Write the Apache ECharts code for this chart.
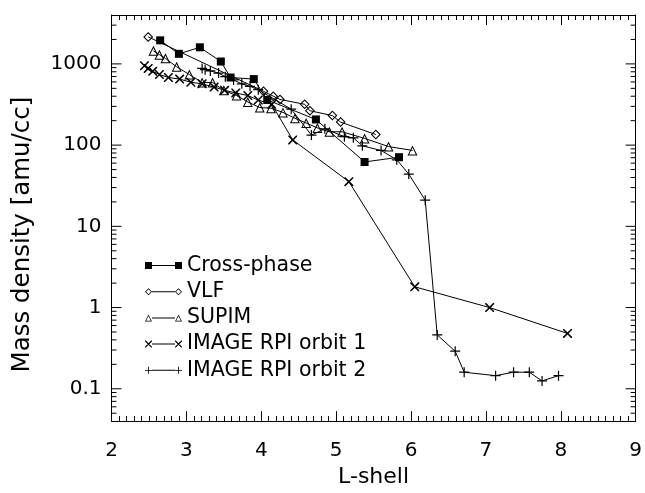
<!DOCTYPE html>
<html>
<head>
<meta charset="utf-8">
<script src="https://cdn.jsdelivr.net/npm/echarts@6/dist/echarts.min.js"></script>
<style>html,body{margin:0;padding:0;background:#fff}#c{width:645px;height:493px}</style>
</head>
<body>
<div id="c"></div>
<script>
// ---- data (L-shell, mass density amu/cc) ----
const crossL = [2.65, 2.90, 3.18, 3.46, 3.59, 3.90, 4.08, 4.73, 5.38, 5.84];
const crossV = [1950, 1330, 1600, 1070, 680, 650, 360, 207, 62, 71];

const vlfL = [2.49, 4.03, 4.16, 4.25, 4.58, 4.65, 4.95, 5.06, 5.53];
const vlfV = [2150, 460, 401, 365, 318, 265, 231, 192, 135];

const supimL = [2.56, 2.64, 2.72, 2.87, 3.04, 3.21, 3.35, 3.50, 3.67, 3.82, 3.98, 4.13, 4.29, 4.45, 4.60, 4.75, 4.91, 5.08, 5.38, 5.70, 6.02];
const supimV = [1450, 1300, 1170, 920, 740, 590, 590, 473, 408, 340, 290, 285, 253, 214, 187, 163, 146, 146, 121, 96, 86];

const orb1L = [2.44, 2.49, 2.55, 2.64, 2.76, 2.91, 3.06, 3.21, 3.37, 3.51, 3.66, 3.82, 3.96, 4.14, 4.42, 5.17, 6.05, 7.05, 8.09];
const orb1V = [950, 880, 810, 740, 680, 650, 595, 568, 518, 473, 439, 408, 359, 318, 116, 35.5, 1.8, 1.0, 0.48];

const orb2L = [3.21, 3.25, 3.32, 3.43, 3.52, 3.63, 3.74, 3.85, 3.96, 4.40, 4.67, 4.85, 5.11, 5.23, 5.35, 5.60, 5.81, 5.97, 6.19, 6.35, 6.59, 6.71, 7.13, 7.37, 7.58, 7.75, 7.97];
const orb2V = [880, 850, 820, 770, 697, 634, 568, 529, 481, 277, 133, 159, 127, 123, 98, 86, 66, 44, 21, 0.46, 0.29, 0.16, 0.145, 0.16, 0.16, 0.125, 0.145];

const seriesNames = ['Cross-phase', 'VLF', 'SUPIM', 'IMAGE RPI orbit 1', 'IMAGE RPI orbit 2'];

const xTicks = [2, 3, 4, 5, 6, 7, 8, 9];
const yMajor = [0.1, 1, 10, 100, 1000];
const yMinorMult = [2, 3, 4, 5, 6, 7, 8, 9];
const yMin = 0.04, yMax = 4000;

// ---- marker shapes (path data, nonzero fill) ----
function diamondP(x, y, s) {
  const h = s / 2, cx = x + h, cy = y + h, t = s * 0.15;
  return `M${x} ${cy} L${cx} ${y} L${x + s} ${cy} L${cx} ${y + s} Z ` +
    `M${x + t} ${cy} L${cx} ${y + s - t} L${x + s - t} ${cy} L${cx} ${y + t} Z`;
}
function triP(x, y, s) {
  const k = s / 10;
  const P = (a, b) => `${x + a * k} ${y + b * k}`;
  return `M${P(0, 10)} L${P(5, 0)} L${P(10, 10)} Z M${P(1.62, 9)} L${P(8.38, 9)} L${P(5, 2.24)} Z`;
}
function squareP(x, y, s) {
  return `M${x} ${y} L${x + s} ${y} L${x + s} ${y + s} L${x} ${y + s} Z`;
}
function crossXP(x, y, s) {
  const t = s * 0.12;
  return `M${x} ${y} L${x + t} ${y} L${x + s} ${y + s - t} L${x + s} ${y + s} L${x + s - t} ${y + s} L${x} ${y + t} Z ` +
    `M${x + s} ${y} L${x + s} ${y + t} L${x + t} ${y + s} L${x} ${y + s} L${x} ${y + s - t} L${x + s - t} ${y} Z`;
}
function plusP(x, y, s) {
  const t = s * 0.12, m = s / 2 - t / 2;
  return `M${x + m} ${y} L${x + m + t} ${y} L${x + m + t} ${y + s} L${x + m} ${y + s} Z ` +
    `M${x} ${y + m} L${x + s} ${y + m} L${x + s} ${y + m + t} L${x} ${y + m + t} Z`;
}
const shapes = [squareP, diamondP, triP, crossXP, plusP];

const LW = 37, LH = 7;
function legendIcon(fn) {
  return 'path://' + fn(0, 0, LH) + ' ' + fn(LW - LH, 0, LH) +
    ` M${LH} ${LH / 2 - 0.5} L${LW - LH} ${LH / 2 - 0.5} L${LW - LH} ${LH / 2 + 0.5} L${LH} ${LH / 2 + 0.5} Z`;
}
function symbolPath(fn) { return 'path://' + fn(0, 0, 10); }

const symbols = ['rect', symbolPath(diamondP), symbolPath(triP), symbolPath(crossXP), symbolPath(plusP)];
const symbolSizes = [8, 10, 10, 9, 10];
const Ls = [crossL, vlfL, supimL, orb1L, orb2L];
const Vs = [crossV, vlfV, supimV, orb1V, orb2V];

const FONT = 'DejaVu Sans';
const series = seriesNames.map((name, i) => ({
  name, type: 'line',
  data: Ls[i].map((l, j) => [l, Vs[i][j]]),
  symbol: symbols[i], symbolSize: symbolSizes[i], showAllSymbol: true,
  symbolKeepAspect: true,
  lineStyle: { color: '#000', width: 1 },
  itemStyle: { color: '#000', borderWidth: 0 },
  emphasis: { disabled: true },
  animation: false, z: 3
}));

// y ticks (log minor ticks at 2..9 per decade), drawn through the axis scale
const yTickData = [];
[0.01, 0.1, 1, 10, 100, 1000].forEach(d => {
  if (d >= yMin && d <= yMax) yTickData.push([d, 1]);
  yMinorMult.forEach(m => { const v = d * m; if (v >= yMin * 1.0001 && v <= yMax * 0.9999) yTickData.push([v, 0]); });
});
series.push({
  type: 'custom', silent: true, animation: false, z: 4,
  data: yTickData, clip: false,
  renderItem: (params, api) => {
    const v = api.value(0), major = api.value(1) === 1;
    const len = major ? 10 : 5;
    const pl = api.coord([2, v]), pr = api.coord([9, v]);
    const st = { stroke: '#000', lineWidth: 1 };
    return { type: 'group', children: [
      { type: 'line', shape: { x1: pl[0], y1: pl[1], x2: pl[0] + len, y2: pl[1] }, style: st },
      { type: 'line', shape: { x1: pr[0], y1: pr[1], x2: pr[0] - len, y2: pr[1] }, style: st }
    ]};
  }
});

const xAxisCommon = {
  type: 'value', min: 2, max: 9, interval: 1,
  axisLine: { show: true, onZero: false, lineStyle: { color: '#000', width: 1 } },
  axisTick: { show: true, inside: true, length: 10, lineStyle: { color: '#000' } },
  minorTick: { show: true, splitNumber: 10, length: 5, lineStyle: { color: '#000' } },
  splitLine: { show: false }, minorSplitLine: { show: false }
};
const yAxisCommon = {
  type: 'log', min: yMin, max: yMax, logBase: 10,
  axisLine: { show: true, onZero: false, lineStyle: { color: '#000', width: 1 } },
  axisTick: { show: false }, minorTick: { show: false },
  splitLine: { show: false }, minorSplitLine: { show: false }
};

const chart = echarts.init(document.getElementById('c'), null, { renderer: 'canvas' });
chart.setOption({
  animation: false,
  backgroundColor: '#fff',
  grid: { left: 111.5, right: 3.6, top: 15, bottom: 61, containLabel: false },
  xAxis: [
    Object.assign({}, xAxisCommon, {
      position: 'bottom',
      name: 'L-shell', nameLocation: 'middle', nameGap: 41,
      nameTextStyle: { fontFamily: FONT, fontSize: 22, color: '#000' },
      axisLabel: { show: true, margin: 20, fontFamily: FONT, fontSize: 20, color: '#000',
        formatter: v => (xTicks.indexOf(v) >= 0 ? String(v) : '') }
    }),
    Object.assign({}, xAxisCommon, { position: 'top', axisLabel: { show: false } })
  ],
  yAxis: [
    Object.assign({}, yAxisCommon, {
      position: 'left',
      name: 'Mass density [amu/cc]', nameLocation: 'middle', nameGap: 76,
      nameTextStyle: { fontFamily: FONT, fontSize: 24.5, color: '#000', padding: [0, 33, 0, 0] },
      axisLabel: { show: true, margin: 10, fontFamily: FONT, fontSize: 20, color: '#000',
        showMinLabel: false, showMaxLabel: false,
        formatter: v => {
          const m = yMajor.find(t => Math.abs(t - v) / t < 1e-6);
          return m === undefined ? '' : String(m);
        } }
    }),
    Object.assign({}, yAxisCommon, { position: 'right', axisLabel: { show: false } })
  ],
  legend: {
    orient: 'vertical', left: 140, top: 250,
    itemWidth: LW, itemHeight: LH, itemGap: 5.2,
    selectedMode: false,
    symbolKeepAspect: true,
    itemStyle: { color: '#000', borderWidth: 0, borderColor: '#000' },
    textStyle: { fontFamily: FONT, fontSize: 20.5, color: '#000', lineHeight: 20 },
    data: seriesNames.map((n, i) => ({ name: n, icon: legendIcon(shapes[i]) }))
  },
  series
});
</script>
</body>
</html>
